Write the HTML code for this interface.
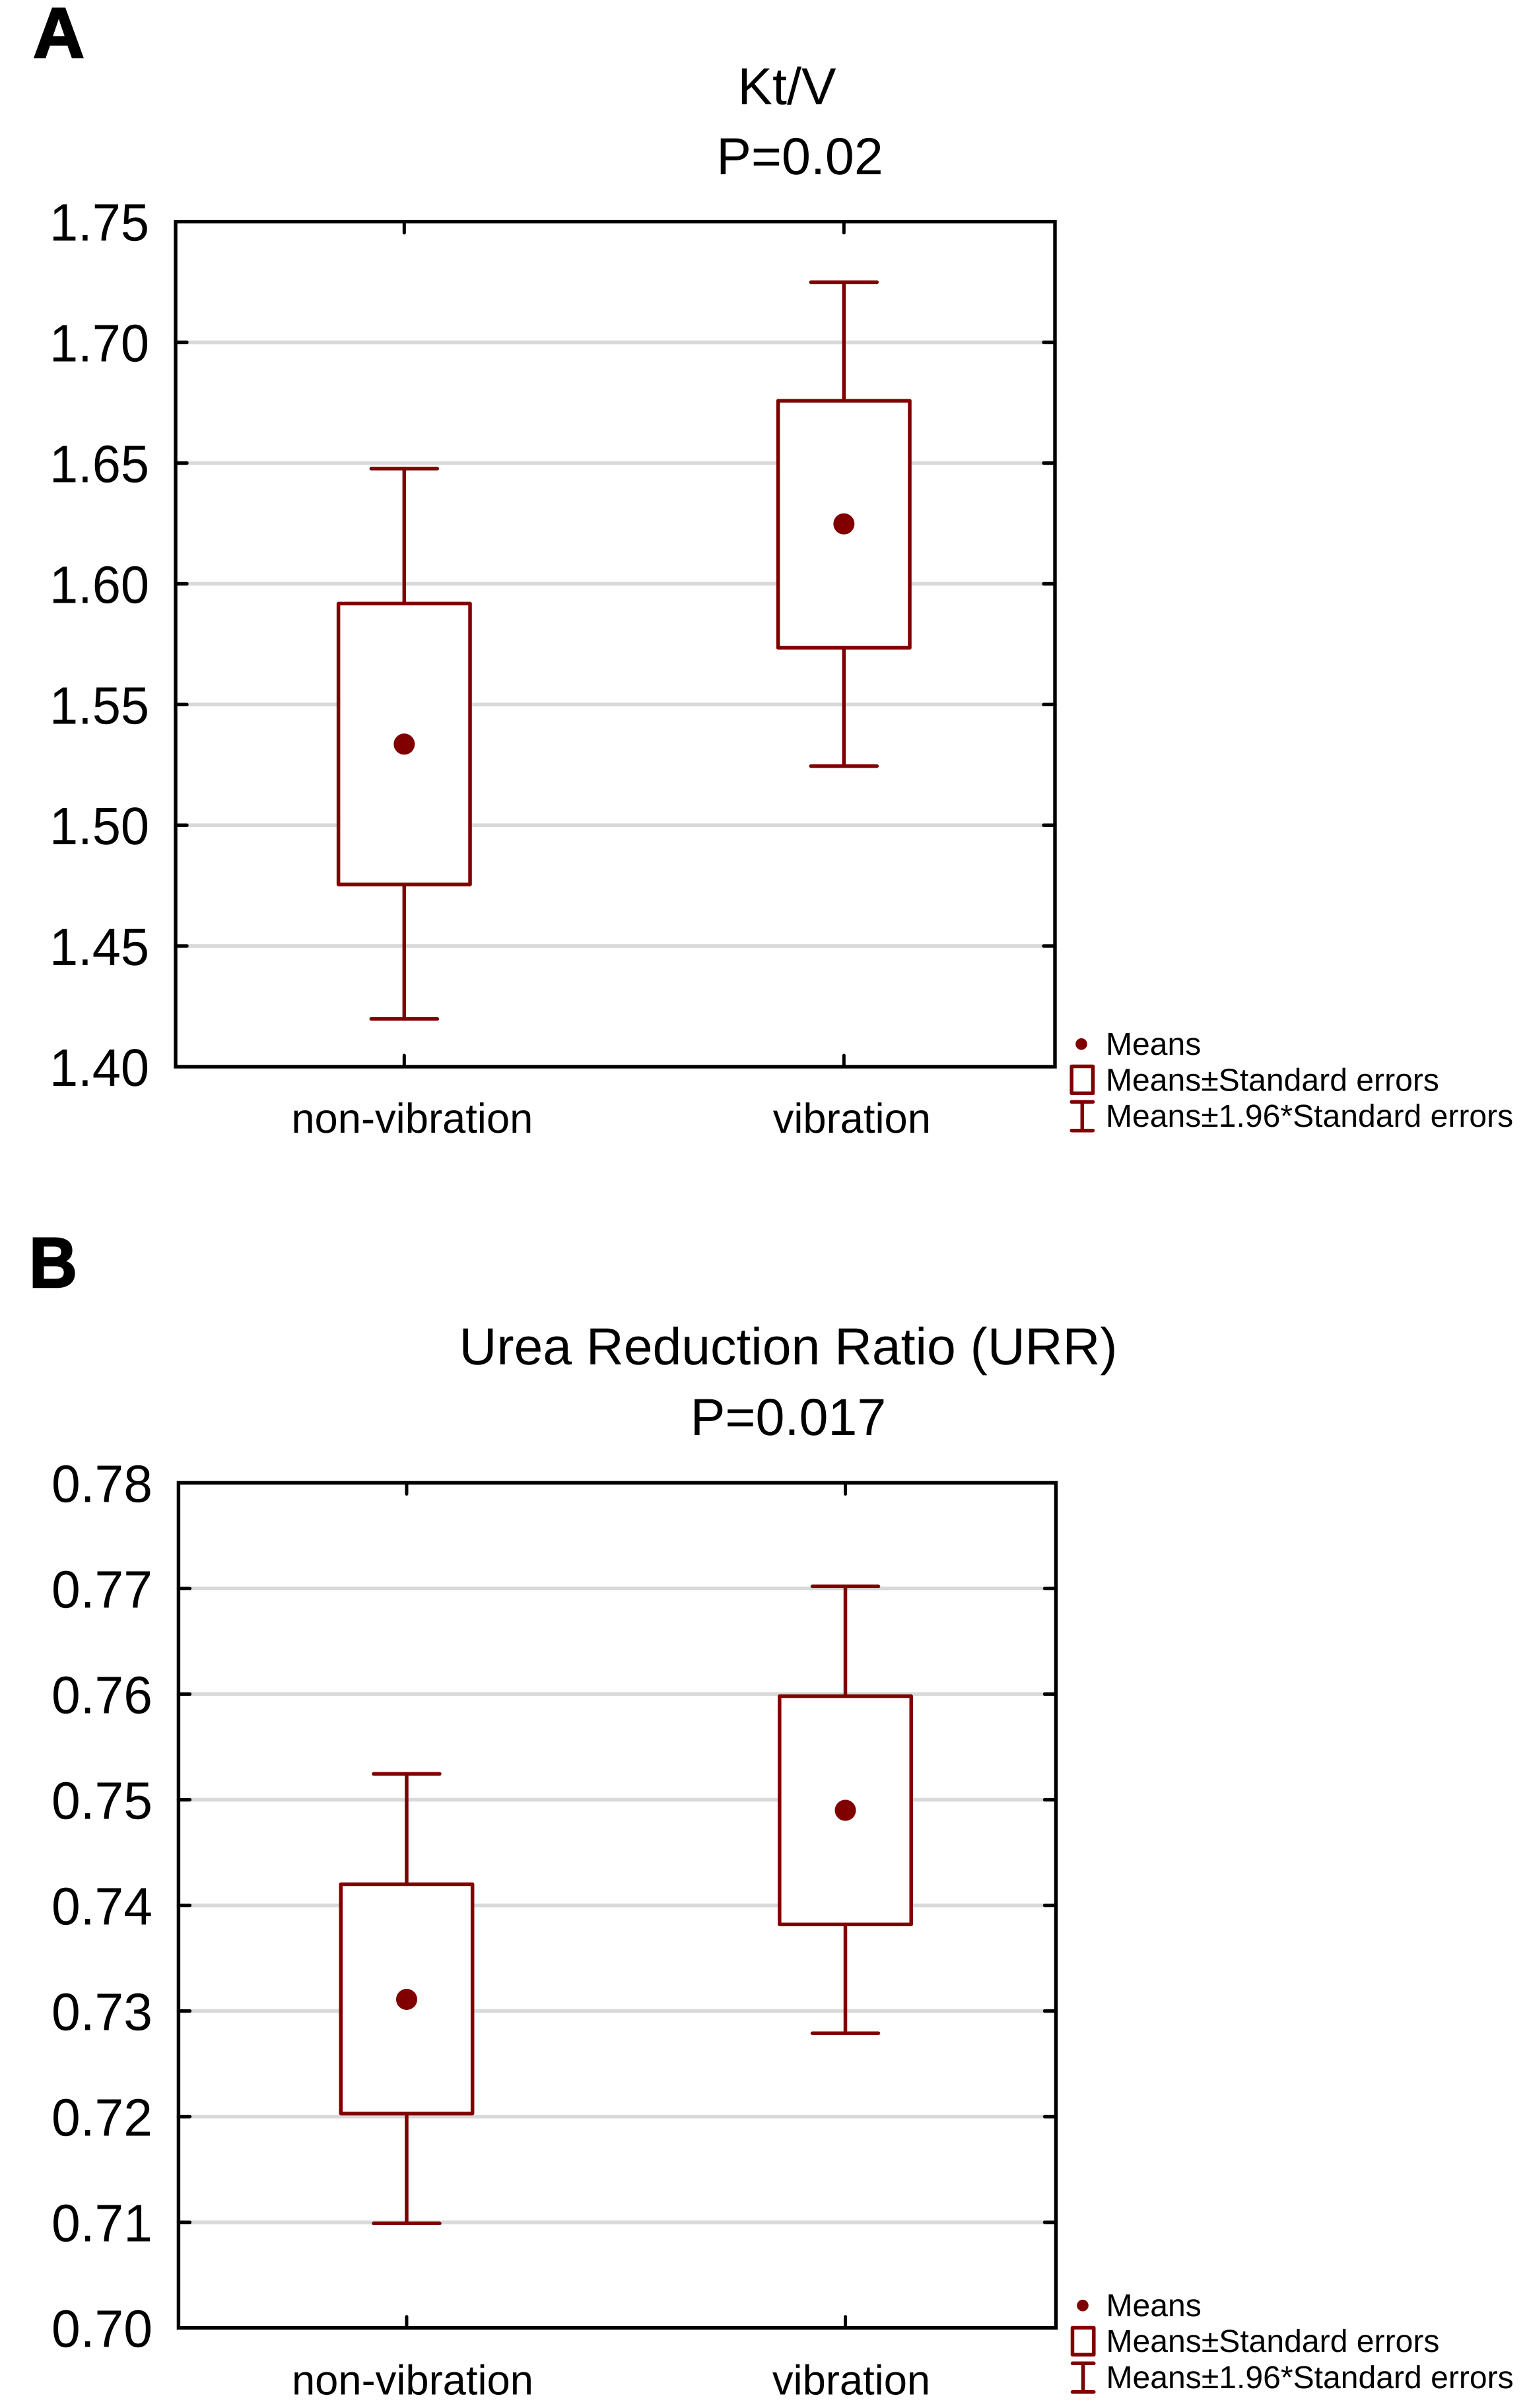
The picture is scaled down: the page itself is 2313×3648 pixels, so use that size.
<!DOCTYPE html>
<html lang="en">
<head>
<meta charset="utf-8">
<title>Kt/V and Urea Reduction Ratio box plots</title>
<style>
  html, body { margin: 0; padding: 0; background: #ffffff; }
  svg { display: block; }
  text { font-family: "Liberation Sans", Arial, sans-serif; fill: #000; text-rendering: geometricPrecision; }
  .letter { font-weight: 700; font-size: 108px; stroke: #000; stroke-width: 2.5px; }
  .title { font-size: 79px; text-anchor: middle; }
  .legend-text { font-size: 48.1px; }
</style>
</head>
<body>
<svg id="figure" xmlns="http://www.w3.org/2000/svg" width="2313" height="3648" viewBox="0 0 2313 3648">
  <rect x="0" y="0" width="2313" height="3648" fill="#ffffff"/>

  <text class="letter" x="50" y="87">A</text>
  <text class="title" x="1192" y="158">Kt/V</text>
  <text class="title" x="1211.5" y="264">P=0.02</text>
  <g id="panel-a"></g>

  <text class="letter" x="44" y="1950" textLength="73" lengthAdjust="spacingAndGlyphs">B</text>
  <text class="title" x="1194" y="2067" textLength="997" lengthAdjust="spacingAndGlyphs">Urea Reduction Ratio (URR)</text>
  <text class="title" x="1194" y="2174">P=0.017</text>
  <g id="panel-b"></g>

  <g>
    <circle cx="1638" cy="1581.7" r="8.8" fill="#800000"/>
    <text class="legend-text" x="1675" y="1598">Means</text>
    <rect x="1623.2" y="1615.5" width="32.3" height="40.7" fill="#fff" stroke="#800000" stroke-width="5.5" stroke-linejoin="round"/>
    <text class="legend-text" x="1675" y="1652.7">Means±Standard errors</text>
    <path d="M1623.2 1669.3H1655.5M1639.3 1669.3V1712.7M1623.2 1712.7H1655.5" fill="none" stroke="#800000" stroke-width="5.5" stroke-linecap="round"/>
    <text class="legend-text" x="1675" y="1707">Means±1.96*Standard errors</text>
  </g>

  <g>
    <circle cx="1640" cy="3492.7" r="8.8" fill="#800000"/>
    <text class="legend-text" x="1675.5" y="3509">Means</text>
    <rect x="1624.5" y="3526.5" width="32.3" height="40.7" fill="#fff" stroke="#800000" stroke-width="5.5" stroke-linejoin="round"/>
    <text class="legend-text" x="1675.5" y="3563.2">Means±Standard errors</text>
    <path d="M1624.5 3580.3H1656.8M1640.6 3580.3V3623.7M1624.5 3623.7H1656.8" fill="none" stroke="#800000" stroke-width="5.5" stroke-linecap="round"/>
    <text class="legend-text" x="1675.5" y="3618">Means±1.96*Standard errors</text>
  </g>
</svg>

<script>
// Shared categories
const categories = ['non-vibration', 'vibration'];

// Panel A: Kt/V
const ktvTickLabels = ['1.40', '1.45', '1.50', '1.55', '1.60', '1.65', '1.70', '1.75'];
const ktvMeans = [1.5336, 1.6248];
const ktvSeLower = [1.4755, 1.5735];
const ktvSeUpper = [1.5918, 1.6758];
const ktvCiLower = [1.4198, 1.5245];
const ktvCiUpper = [1.6477, 1.7249];

// Panel B: Urea Reduction Ratio
const urrTickLabels = ['0.70', '0.71', '0.72', '0.73', '0.74', '0.75', '0.76', '0.77', '0.78'];
const urrMeans = [0.7311, 0.7490];
const urrSeLower = [0.7203, 0.7382];
const urrSeUpper = [0.7420, 0.7598];
const urrCiLower = [0.7099, 0.7279];
const urrCiUpper = [0.75245, 0.7702];

const SVG_NS = 'http://www.w3.org/2000/svg';
const MAROON = '#800000';
const LINE_W = 5.5;

function make(parent, tag, attrs) {
  const el = document.createElementNS(SVG_NS, tag);
  for (const k in attrs) el.setAttribute(k, attrs[k]);
  parent.appendChild(el);
  return el;
}

function drawPanel(parent, frame, tickLabels, means, seLower, seUpper, ciLower, ciUpper) {
  const ticks = tickLabels.map(Number);
  const yMin = ticks[0];
  const yMax = ticks[ticks.length - 1];
  const yScale = function (v) {
    return frame.bottom - (v - yMin) * (frame.bottom - frame.top) / (yMax - yMin);
  };
  const xScale = function (i) {
    return frame.left + (frame.right - frame.left) * (i + 0.52) / categories.length;
  };

  // Gridlines
  ticks.forEach(function (t, i) {
    if (i === 0 || i === ticks.length - 1) return;
    const grid = make(parent, 'line', { x1: frame.left + 17, x2: frame.right - 17, y1: yScale(t), y2: yScale(t), stroke: '#d9d9d9', 'stroke-width': 5.6 });
    
    
  });

  // Series marks
  categories.forEach(function (name, i) {
    const cx = xScale(i);

    const whiskerUp = make(parent, 'line', { x1: cx, x2: cx, y1: yScale(ciUpper[i]), y2: yScale(seUpper[i]), stroke: MAROON, 'stroke-width': LINE_W });
    
    

    const whiskerDown = make(parent, 'line', { x1: cx, x2: cx, y1: yScale(seLower[i]), y2: yScale(ciLower[i]), stroke: MAROON, 'stroke-width': LINE_W });
    
    

    const capUp = make(parent, 'line', { x1: cx - 50, x2: cx + 50, y1: yScale(ciUpper[i]), y2: yScale(ciUpper[i]), stroke: MAROON, 'stroke-width': LINE_W, 'stroke-linecap': 'round' });
    
    

    const capDown = make(parent, 'line', { x1: cx - 50, x2: cx + 50, y1: yScale(ciLower[i]), y2: yScale(ciLower[i]), stroke: MAROON, 'stroke-width': LINE_W, 'stroke-linecap': 'round' });
    
    

    const box = make(parent, 'rect', { x: cx - 99.7, y: yScale(seUpper[i]), width: 199.4, height: yScale(seLower[i]) - yScale(seUpper[i]), fill: '#ffffff', stroke: MAROON, 'stroke-width': LINE_W, 'stroke-linejoin': 'round' });
    
    

    const dot = make(parent, 'circle', { cx: cx, cy: yScale(means[i]), r: 16, fill: MAROON });
    
    

    const tickTop = make(parent, 'line', { x1: cx, x2: cx, y1: frame.top, y2: frame.top + 17, stroke: '#000', 'stroke-width': 5, 'stroke-linecap': 'round' });
    
    

    const tickBottom = make(parent, 'line', { x1: cx, x2: cx, y1: frame.bottom, y2: frame.bottom - 17, stroke: '#000', 'stroke-width': 5, 'stroke-linecap': 'round' });
    
    

    const label = make(parent, 'text', { x: cx + frame.xLabelShift, y: frame.bottom + frame.xLabelGap, 'text-anchor': 'middle', 'font-size': 63.3 });
    
    
    label.textContent = name;
  });

  // Y ticks and labels
  ticks.forEach(function (t, i) {
    const y = yScale(t);
    if (i !== 0 && i !== ticks.length - 1) {
      const tl = make(parent, 'line', { x1: frame.left, x2: frame.left + 17, y1: y, y2: y, stroke: '#000', 'stroke-width': 5.4, 'stroke-linecap': 'round' });
      
      
      const tr = make(parent, 'line', { x1: frame.right - 17, x2: frame.right, y1: y, y2: y, stroke: '#000', 'stroke-width': 5.4, 'stroke-linecap': 'round' });
      
      
    }
    const label = make(parent, 'text', { x: frame.labelX, y: y + 29, 'text-anchor': 'end', 'font-size': 80, textLength: frame.labelW, lengthAdjust: 'spacingAndGlyphs' });
    
    
    label.textContent = tickLabels[i];
  });

  // Plot frame
  const border = make(parent, 'rect', { x: frame.left, y: frame.top, width: frame.right - frame.left, height: frame.bottom - frame.top, fill: 'none', stroke: '#000', 'stroke-width': 5.4 });
  
  
}

drawPanel(document.getElementById('panel-a'),
  { left: 266, right: 1598, top: 335.7, bottom: 1616, labelX: 226, labelW: 151, xLabelGap: 100, xLabelShift: 12 },
  ktvTickLabels, ktvMeans, ktvSeLower, ktvSeUpper, ktvCiLower, ktvCiUpper);

drawPanel(document.getElementById('panel-b'),
  { left: 270.4, right: 1599.5, top: 2246.4, bottom: 3526.7, labelX: 231, labelW: 153, xLabelGap: 101, xLabelShift: 9 },
  urrTickLabels, urrMeans, urrSeLower, urrSeUpper, urrCiLower, urrCiUpper);
</script>
</body>
</html>
